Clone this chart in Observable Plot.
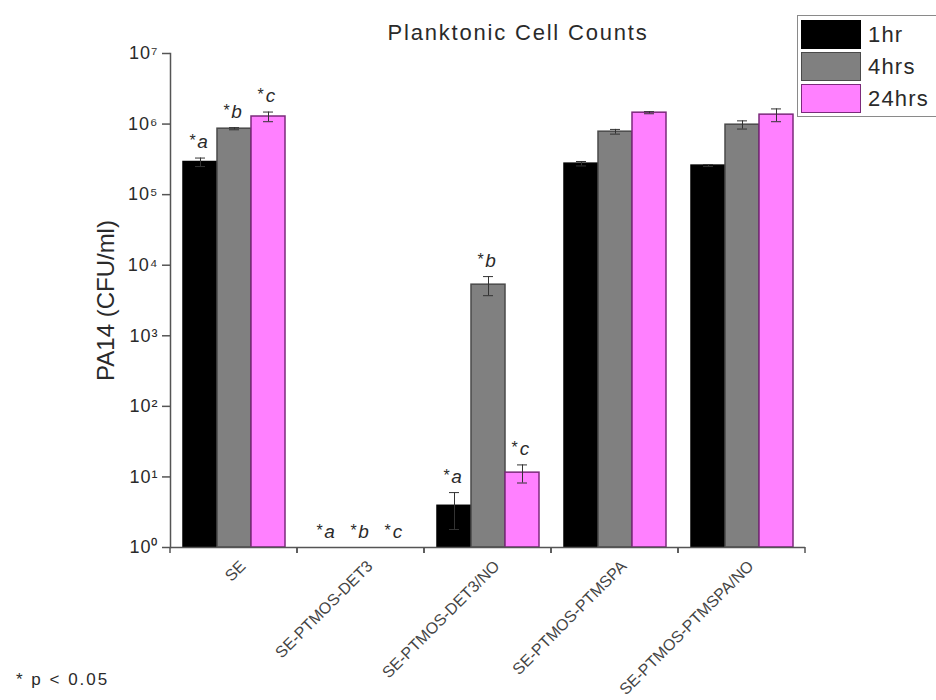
<!DOCTYPE html>
<html>
<head>
<meta charset="utf-8">
<script src="https://cdn.jsdelivr.net/npm/d3@7"></script>
<script src="https://cdn.jsdelivr.net/npm/@observablehq/plot@0.6"></script>
<style>
  body { margin: 0; background: #fff; font-family: "Liberation Sans", Arial, sans-serif; }
  #wrap { position: relative; width: 936px; height: 700px; overflow: hidden; }
  #title { position: absolute; left: 518px; top: 22px; transform: translateX(-50%);
           font-size: 22px; letter-spacing: 1.8px; line-height: 1; color: #2a2a2a; white-space: nowrap; }
  #legend { position: absolute; left: 797px; top: 15px; width: 150px; padding: 3px 0 1px 3px;
            border: 1px solid #8a8a8a; background: #fff; }
  .row { display: flex; align-items: center; height: 31px; margin-bottom: 1px; }
  .sw { width: 58px; height: 27px; border: 1.5px solid; margin-right: 7px; }
  .lab { font-size: 22px; letter-spacing: 1.2px; color: #2a2a2a; }
  #note { position: absolute; left: 16px; top: 671px; font-size: 17px; letter-spacing: 2px; line-height: 1; color: #2a2a2a; }
  #chart svg [aria-label="y-axis label"] text { font-size: 24px; fill: #2a2a2a; }
  #chart svg [aria-label="y-axis tick label"] text { letter-spacing: 1px; }
</style>
</head>
<body>
<div id="wrap">
  <div id="chart"></div>
  <div id="title">Planktonic Cell Counts</div>
  <div id="legend"></div>
  <div id="note">* p &lt; 0.05</div>
</div>
<script>
// Surface-eluted coatings, sampled at three time points
const categories = ["SE", "SE-PTMOS-DET3", "SE-PTMOS-DET3/NO", "SE-PTMOS-PTMSPA", "SE-PTMOS-PTMSPA/NO"];
const times = ["1hr", "4hrs", "24hrs"];
const fills = ["#000000", "#808080", "#ff80ff"];
const outlines = ["#000000", "#4a4a4a", "#7b2a7b"];

// Mean planktonic counts (CFU/ml); null where no cells were recovered
const counts1hr = [2.9e5, null, 3.9, 2.75e5, 2.58e5];
const counts4hrs = [8.6e5, null, 5300, 7.8e5, 9.8e5];
const counts24hrs = [1.28e6, null, 11.5, 1.45e6, 1.36e6];

// Error (± CFU/ml)
const err1hr = [0.4e5, null, 2.1, 0.2e5, 0.08e5];
const err4hrs = [0.3e5, null, 1600, 0.6e5, 1.3e5];
const err24hrs = [0.2e6, null, 3.3, 0.05e6, 0.28e6];

// Significance letters (* p < 0.05)
const letters1hr = ["a", "a", "a", null, null];
const letters4hrs = ["b", "b", "b", null, null];
const letters24hrs = ["c", "c", "c", null, null];

const yTicks = [1, 10, 100, 1e3, 1e4, 1e5, 1e6, 1e7];
const superscripts = "⁰¹²³⁴⁵⁶⁷⁸⁹";

const series = [
  {time: times[0], counts: counts1hr, errors: err1hr, letters: letters1hr},
  {time: times[1], counts: counts4hrs, errors: err4hrs, letters: letters4hrs},
  {time: times[2], counts: counts24hrs, errors: err24hrs, letters: letters24hrs}
];

const rows = series.flatMap((s) => categories.map((c, j) => ({
  category: c, time: s.time, value: s.counts[j], err: s.errors[j], letter: s.letters[j]
})));
const measured = rows.filter((d) => d.value != null);
const lettered = rows.filter((d) => d.letter != null);
const topOf = (d) => (d.value != null ? d.value + d.err : 1);

// Category boundary ticks along the baseline, one pair per facet
const boundaryTicks = (index, {x, y}) => {
  const [x0, x1] = x.range();
  const y0 = y(1);
  const g = d3.create("svg:g").attr("stroke", "#555").attr("stroke-width", 1.5);
  for (const xv of [x0, x1]) {
    g.append("line").attr("x1", xv).attr("x2", xv).attr("y1", y0).attr("y2", y0 + 6);
  }
  return g.node();
};

const chart = Plot.plot({
  width: 936,
  height: 700,
  marginLeft: 169,
  marginRight: 130,
  marginTop: 53,
  marginBottom: 153,
  style: {fontFamily: "Liberation Sans, Arial, sans-serif", color: "#2a2a2a", background: "#fff"},
  fx: {domain: categories, padding: 0},
  x: {domain: times, paddingInner: 0, paddingOuter: 0.32, axis: null},
  y: {type: "log", domain: [1, 1e7]},
  marks: [
    ...times.map((t, i) => Plot.barY(measured.filter((d) => d.time === t), {
      fx: "category", x: "time", y1: 1, y2: "value",
      fill: fills[i], stroke: outlines[i], strokeWidth: 1.5
    })),
    Plot.ruleX(measured, {
      fx: "category", x: "time", y1: (d) => d.value - d.err, y2: (d) => d.value + d.err,
      stroke: "#333", strokeWidth: 1
    }),
    Plot.tickY(measured, {
      fx: "category", x: "time", y: (d) => d.value + d.err,
      stroke: "#333", strokeWidth: 1, insetLeft: 12, insetRight: 12
    }),
    Plot.tickY(measured, {
      fx: "category", x: "time", y: (d) => d.value - d.err,
      stroke: "#333", strokeWidth: 1, insetLeft: 12, insetRight: 12
    }),
    Plot.text(lettered, {
      fx: "category", x: "time", y: topOf, text: () => "*",
      fontSize: 16, dx: -8, dy: -12, lineAnchor: "bottom", fill: "#2a2a2a"
    }),
    Plot.text(lettered, {
      fx: "category", x: "time", y: topOf, text: "letter",
      fontSize: 19, fontStyle: "italic", dx: 2, dy: -10, lineAnchor: "bottom", fill: "#2a2a2a"
    }),
    Plot.ruleY([1], {stroke: "#555", strokeWidth: 1.5}),
    boundaryTicks,
    Plot.frame({anchor: "left", facet: "super", stroke: "#555", strokeWidth: 1.5}),
    Plot.axisY({
      ticks: yTicks,
      tickFormat: (d) => "10" + superscripts[Math.round(Math.log10(d))],
      tickSize: 8, tickPadding: 4, fontSize: 18, stroke: "#555", strokeWidth: 1.5,
      label: "PA14 (CFU/ml)", labelAnchor: "center", labelOffset: 74, labelArrow: "none"
    }),
    Plot.axisFx({
      anchor: "bottom", tickSize: 0, tickPadding: 8, tickRotate: -45,
      fontSize: 16, fill: "#444", dx: 9, dy: 8, label: null
    })
  ]
});
document.getElementById("chart").append(chart);

// Legend built from the same series
const legend = d3.select("#legend");
times.forEach((t, i) => {
  const row = legend.append("div").attr("class", "row");
  row.append("div").attr("class", "sw").style("background", fills[i]).style("border-color", outlines[i]);
  row.append("div").attr("class", "lab").text(t);
});
</script>
</body>
</html>
